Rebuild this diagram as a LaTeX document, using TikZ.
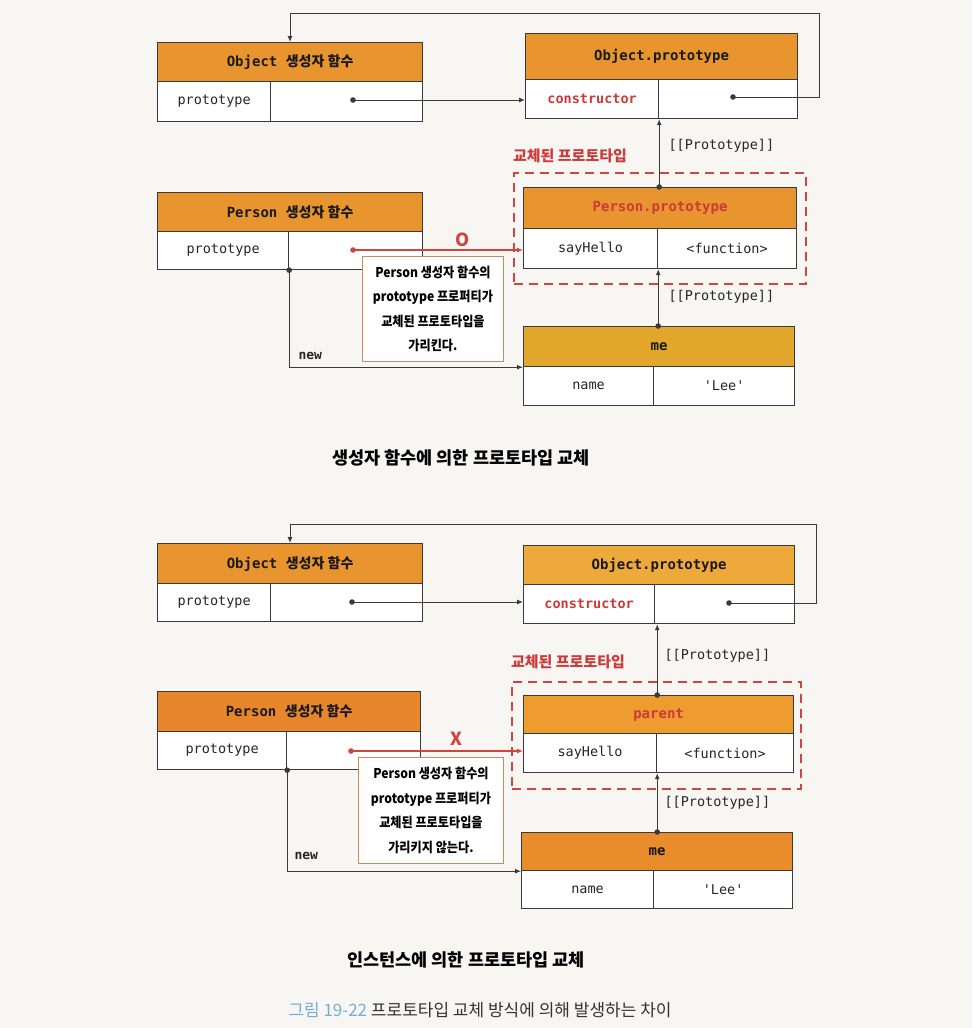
\documentclass[tikz,border=0pt]{standalone}
\usepackage{fontspec}
\setmainfont{Noto Sans CJK KR}
\newfontfamily\mono{DejaVu Sans Mono}
\newfontfamily\kr{Noto Sans CJK KR}
\newfontfamily\krc[FakeStretch=0.9]{Noto Sans CJK KR}
\usetikzlibrary{arrows.meta}
\definecolor{hdrA}{HTML}{E8952F}
\definecolor{hdrMe}{HTML}{E2A82E}
\definecolor{hdrOPb}{HTML}{EDAA3A}
\definecolor{hdrPar}{HTML}{EE9B30}
\definecolor{hdrPb}{HTML}{E8862B}
\definecolor{hdrMeb}{HTML}{E98C2B}
\definecolor{redt}{HTML}{CC3A3A}
\definecolor{redd}{HTML}{CF4540}
\definecolor{lineC}{HTML}{3A3A3A}
\definecolor{bgC}{HTML}{F8F6F3}
\definecolor{callB}{HTML}{C98B5E}
\definecolor{capBlue}{HTML}{72AED6}
\definecolor{capGrey}{HTML}{333333}
\newcommand\kor[1]{{\kr #1}}
\tikzset{
  hdr/.style={draw=lineC, line width=1.2pt, anchor=north west, inner sep=0pt,
    text=black!90, font=\mono\bfseries\fontsize{14}{16}\selectfont},
  cell/.style={draw=lineC, line width=1.2pt, fill=white, anchor=north west, inner sep=0pt,
    text=black!85, font=\mono\fontsize{13.5}{15}\selectfont},
  arr/.style={draw=lineC, line width=1pt, -{Latex[length=6pt,width=5pt]}},
  redarr/.style={draw=redd, line width=1.2pt, -{Latex[length=6pt,width=5pt]}},
  dotb/.style={fill=lineC},
  dotr/.style={fill=redd},
  callout/.style={draw=callB, line width=0.9pt, fill=white, anchor=north west, inner sep=0pt,
    align=center, text=black, font=\krc\bfseries\fontsize{13.5}{24.5}\selectfont},
  dashbox/.style={draw=redd, line width=2pt, dash pattern=on 9pt off 6pt, anchor=north west, inner sep=0pt},
  redlabel/.style={text=redt, font=\kr\bfseries\fontsize{15}{17}\selectfont},
  protolabel/.style={text=black!85, font=\mono\fontsize{13.5}{15}\selectfont},
  newlabel/.style={text=black!85, font=\mono\bfseries\fontsize{13}{15}\selectfont},
  caption/.style={text=black, font=\kr\bfseries\fontsize{17.5}{20}\selectfont},
  okmark/.style={text=redd, font=\kr\bfseries\fontsize{18}{20}\selectfont}
}
\begin{document}
\begin{tikzpicture}[x=1pt,y=-1pt]
\useasboundingbox (0,0) rectangle (972,1028);
\fill[bgC] (0,0) rectangle (972,1028);

%%%%%%%%%%%%%%%% TOP DIAGRAM %%%%%%%%%%%%%%%%
\node[hdr, fill=hdrA, minimum width=265, minimum height=39] (objH) at (157,42) {Object \kor{생성자 함수}};
\node[cell, minimum width=113, minimum height=40] (objL) at (157,81) {prototype};
\node[cell, minimum width=152, minimum height=40] (objR) at (270,81) {};
\node[hdr, fill=hdrA, minimum width=272, minimum height=46] (opH) at (525,33) {Object.prototype};
\node[cell, minimum width=133, minimum height=39, text=redt, font=\mono\bfseries\fontsize{13.5}{15}\selectfont] (opL) at (525,79) {constructor};
\node[cell, minimum width=139, minimum height=39] (opR) at (658,79) {};
\node[hdr, fill=hdrA, minimum width=265, minimum height=39] (pfH) at (157,192) {Person \kor{생성자 함수}};
\node[cell, minimum width=131, minimum height=38] (pfL) at (157,231) {prototype};
\node[cell, minimum width=134, minimum height=38] (pfR) at (288,231) {};
\node[dashbox, minimum width=292, minimum height=111] (grpA) at (513,172) {};
\node[redlabel] (grpAlab) at (570,156) {교체된 프로토타입};
\node[hdr, fill=hdrA, minimum width=273, minimum height=41, text=redt] (ppH) at (523,187) {Person.prototype};
\node[cell, minimum width=134, minimum height=40] (ppL) at (523,228) {sayHello};
\node[cell, minimum width=139, minimum height=40] (ppR) at (657,228) {<function>};
\node[hdr, fill=hdrMe, minimum width=271, minimum height=40] (meH) at (523,326) {me};
\node[cell, minimum width=130, minimum height=39] (meL) at (523,366) {name};
\node[cell, minimum width=141, minimum height=39] (meR) at (653,366) {'Lee'};

\coordinate (objDot) at (353,100);
\draw[arr] (objDot) -- (objDot -| opL.west);
\fill[dotb] (objDot) circle (2.8);

\coordinate (opDot) at (733,97);
\coordinate (loopTR) at (819,13);
\coordinate (loopTL) at (290,13);
\draw[arr] (opDot) -| (loopTR) -- (loopTL) -- (loopTL |- objH.north);
\fill[dotb] (opDot) circle (2.8);

\coordinate (ppDot) at (ppH.north -| opL.east);
\draw[arr] (ppDot) -- (ppDot |- opL.south);
\fill[dotb] (ppDot) circle (2.8);
\node[protolabel, anchor=west] (protoA1) at (665,146) {[[Prototype]]};

\coordinate (meDot) at (meH.north -| ppL.east);
\draw[arr] (meDot) -- (meDot |- ppL.south);
\fill[dotb] (meDot) circle (2.8);
\node[protolabel, anchor=west] (protoA2) at (665,297) {[[Prototype]]};

\coordinate (pfDot) at (353,250);
\draw[redarr] (pfDot) -- (pfDot -| ppL.west);
\fill[dotr] (pfDot) circle (2.8);
\node[okmark] (okMark) at (463,240) {O};

\coordinate (pfB) at (pfL.south east);
\draw[arr] (pfB) |- (meH.south west);
\fill[dotb] (pfB) circle (2.8);
\node[newlabel, anchor=west] (newA) at (295,356) {new};

\node[callout, minimum width=141, minimum height=105] (callA) at (362,256)
  {Person 생성자 함수의\\prototype 프로퍼티가\\교체된 프로토타입을\\가리킨다.};

\node[caption] (capA) at (461,458) {생성자 함수에 의한 프로토타입 교체};

%%%%%%%%%%%%%%%% BOTTOM DIAGRAM %%%%%%%%%%%%%%%%
\node[hdr, fill=hdrA, minimum width=265, minimum height=40] (objH2) at (157,543) {Object \kor{생성자 함수}};
\node[cell, minimum width=113, minimum height=38] (objL2) at (157,583) {prototype};
\node[cell, minimum width=152, minimum height=38] (objR2) at (270,583) {};
\node[hdr, fill=hdrOPb, minimum width=271, minimum height=39] (opH2) at (523,545) {Object.prototype};
\node[cell, minimum width=131, minimum height=39, text=redt, font=\mono\bfseries\fontsize{13.5}{15}\selectfont] (opL2) at (523,584) {constructor};
\node[cell, minimum width=140, minimum height=39] (opR2) at (654,584) {};
\node[hdr, fill=hdrPb, minimum width=263, minimum height=40] (pfH2) at (157,691) {Person \kor{생성자 함수}};
\node[cell, minimum width=129, minimum height=38] (pfL2) at (157,731) {prototype};
\node[cell, minimum width=134, minimum height=38] (pfR2) at (286,731) {};
\node[dashbox, minimum width=289, minimum height=107] (grpB) at (511,681) {};
\node[redlabel] (grpBlab) at (568,662) {교체된 프로토타입};
\node[hdr, fill=hdrPar, minimum width=270, minimum height=38, text=redt] (parH) at (523,695) {parent};
\node[cell, minimum width=133, minimum height=39] (parL) at (523,733) {sayHello};
\node[cell, minimum width=137, minimum height=39] (parR) at (656,733) {<function>};
\node[hdr, fill=hdrMeb, minimum width=271, minimum height=38] (meH2) at (521,832) {me};
\node[cell, minimum width=132, minimum height=38] (meL2) at (521,870) {name};
\node[cell, minimum width=139, minimum height=38] (meR2) at (653,870) {'Lee'};

\coordinate (objDot2) at (352,602);
\draw[arr] (objDot2) -- (objDot2 -| opL2.west);
\fill[dotb] (objDot2) circle (2.8);

\coordinate (opDot2) at (729,603);
\coordinate (loopTR2) at (816,524);
\coordinate (loopTL2) at (290,524);
\draw[arr] (opDot2) -| (loopTR2) -- (loopTL2) -- (loopTL2 |- objH2.north);
\fill[dotb] (opDot2) circle (2.8);

\coordinate (parDot) at (parH.north -| parL.east);
\draw[arr] (parDot) -- (parDot |- opL2.south);
\fill[dotb] (parDot) circle (2.8);
\node[protolabel, anchor=west] (protoB1) at (661,656) {[[Prototype]]};

\coordinate (meDot2) at (meH2.north -| parL.east);
\draw[arr] (meDot2) -- (meDot2 |- parL.south);
\fill[dotb] (meDot2) circle (2.8);
\node[protolabel, anchor=west] (protoB2) at (661,803) {[[Prototype]]};

\coordinate (pfDot2) at (351,751);
\draw[redarr] (pfDot2) -- (pfDot2 -| parL.west);
\fill[dotr] (pfDot2) circle (2.8);
\node[okmark] (noMark) at (456,739) {X};

\coordinate (pfB2) at (pfL2.south east);
\draw[arr] (pfB2) |- (meH2.south west);
\fill[dotb] (pfB2) circle (2.8);
\node[newlabel, anchor=west] (newB) at (291,856) {new};

\node[callout, minimum width=145, minimum height=106] (callB) at (358,757)
  {Person 생성자 함수의\\prototype 프로퍼티가\\교체된 프로토타입을\\가리키지 않는다.};

\node[caption] (capB) at (466,960) {인스턴스에 의한 프로토타입 교체};

\node[text=capGrey, font=\kr\fontsize{17}{19}\selectfont] (figcap) at (480,1010)
  {{\color{capBlue}그림 19-22} 프로토타입 교체 방식에 의해 발생하는 차이};
\end{tikzpicture}
\end{document}
